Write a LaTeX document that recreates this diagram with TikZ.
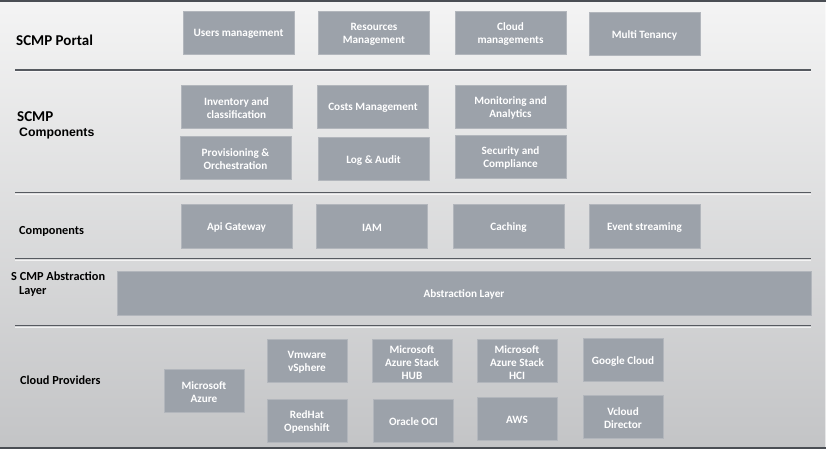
\documentclass[tikz,border=0pt]{standalone}
\usepackage{fontspec}
\setmainfont{Carlito}
\newfontfamily\arialf{Liberation Sans}
\definecolor{bgtop}{HTML}{F4F4F4}
\definecolor{bgbot}{HTML}{C3C4C6}
\definecolor{boxfill}{HTML}{9CA2AA}
\definecolor{boxline}{HTML}{B2B6BC}
\definecolor{sepline}{HTML}{565A60}
\definecolor{frameline}{HTML}{4A4E54}
\tikzset{
  box/.style={fill=boxfill, draw=boxline, line width=0.6pt, inner sep=0pt,
    minimum height=43pt},
  boxtext/.style={text=white, font=\bfseries\fontsize{11.2}{13}\selectfont,
    align=center, inner sep=0pt},
  wide/.style={minimum width=111pt},
  narrow/.style={minimum width=80pt},
  lbl/.style={anchor=base west, inner sep=0pt, text=black,
    font=\bfseries\fontsize{12.3}{14}\selectfont},
  sep/.style={draw=sepline, line width=1.4pt},
  hilite/.style={draw=white, line width=0.6pt, opacity=0.7},
}
% box: options, name, centre, text
\newcommand\mybox[4]{%
  \node[box,#1] (#2) at (#3) {};
  \node[boxtext] (#2t) at ([yshift=-1.6pt]#2.center) {#4};}
\begin{document}
\begin{tikzpicture}[x=1pt,y=-1pt]
\useasboundingbox (0,0) rectangle (826,449);
\shade[top color=bgtop, bottom color=bgbot] (0,0) rectangle (826,449);
% frame
\draw[frameline, line width=1.6pt] (0,0.8) -- (826,0.8);
\draw[frameline, line width=1.6pt] (0,448.2) -- (826,448.2);
\draw[white, line width=0.8pt, opacity=0.6] (825.4,2) -- (825.4,447);
% separators
\foreach \yy in {70,192.5,258.5,325.5}{
  \draw[sep] (15,\yy) -- (811,\yy);
  \draw[hilite] (15,\yy+1.3) -- (811,\yy+1.3);
}
% row labels
\node[lbl, font=\bfseries\fontsize{15}{17}\selectfont] (lportal) at (16,46) {SCMP Portal};
\node[lbl, font=\bfseries\fontsize{15}{17}\selectfont] (lscmp) at (17,121.5) {SCMP};
\node[lbl, font=\arialf\bfseries\fontsize{12.3}{14}\selectfont] (lcomp) at (19,137) {Components};
\node[lbl] (lcomp2) at (19,234) {Components};
\node[lbl] (labs) at (11,280.5) {S CMP Abstraction};
\node[lbl] (labs2) at (19,294.5) {Layer};
\node[lbl] (lcloud) at (20,384.5) {Cloud Providers};
% portal
\mybox{wide}{usr}{238.5,32.5}{Users management}
\mybox{wide}{res}{374,32.5}{Resources\\Management}
\mybox{wide}{cld}{510.5,32.5}{Cloud\\managements}
\mybox{wide}{mt}{644.5,33.5}{Multi Tenancy}
% components
\mybox{wide}{inv}{236.5,106.5}{Inventory and\\classification}
\mybox{wide}{cost}{373,106.5}{Costs Management}
\mybox{wide}{mon}{510.5,106.5}{Monitoring and\\Analytics}
\mybox{wide}{prov}{235.5,157.5}{Provisioning \&\\Orchestration}
\mybox{wide}{log}{373.5,159}{Log \& Audit}
\mybox{wide}{sec}{510.5,156.5}{Security and\\Compliance}
% components row 3
\mybox{wide,minimum height=44pt}{api}{236.5,226}{Api Gateway}
\mybox{wide,minimum height=44pt}{iam}{372,226}{IAM}
\mybox{wide,minimum height=44pt}{cache}{508.5,226}{Caching}
\mybox{wide,minimum height=44pt}{evt}{644.5,226}{Event streaming}
% abstraction
\mybox{minimum width=694pt,minimum height=44pt}{abs}{464,293}{Abstraction Layer}
% cloud providers
\mybox{narrow}{azure}{204,390.5}{Microsoft\\Azure}
\mybox{narrow}{vmw}{307,360.5}{Vmware\\vSphere}
\mybox{narrow}{hub}{412,361}{Microsoft\\Azure Stack\\HUB}
\mybox{narrow}{redhat}{307,420.5}{RedHat\\Openshift}
\mybox{narrow}{oci}{413.5,420.5}{Oracle OCI}
\mybox{narrow}{hci}{517,361}{Microsoft\\Azure Stack\\HCI}
\mybox{narrow}{aws}{517,418.5}{AWS}
\mybox{narrow}{gcp}{623,360}{Google Cloud}
\mybox{narrow}{vcd}{623,417}{Vcloud\\Director}
\end{tikzpicture}
\end{document}
